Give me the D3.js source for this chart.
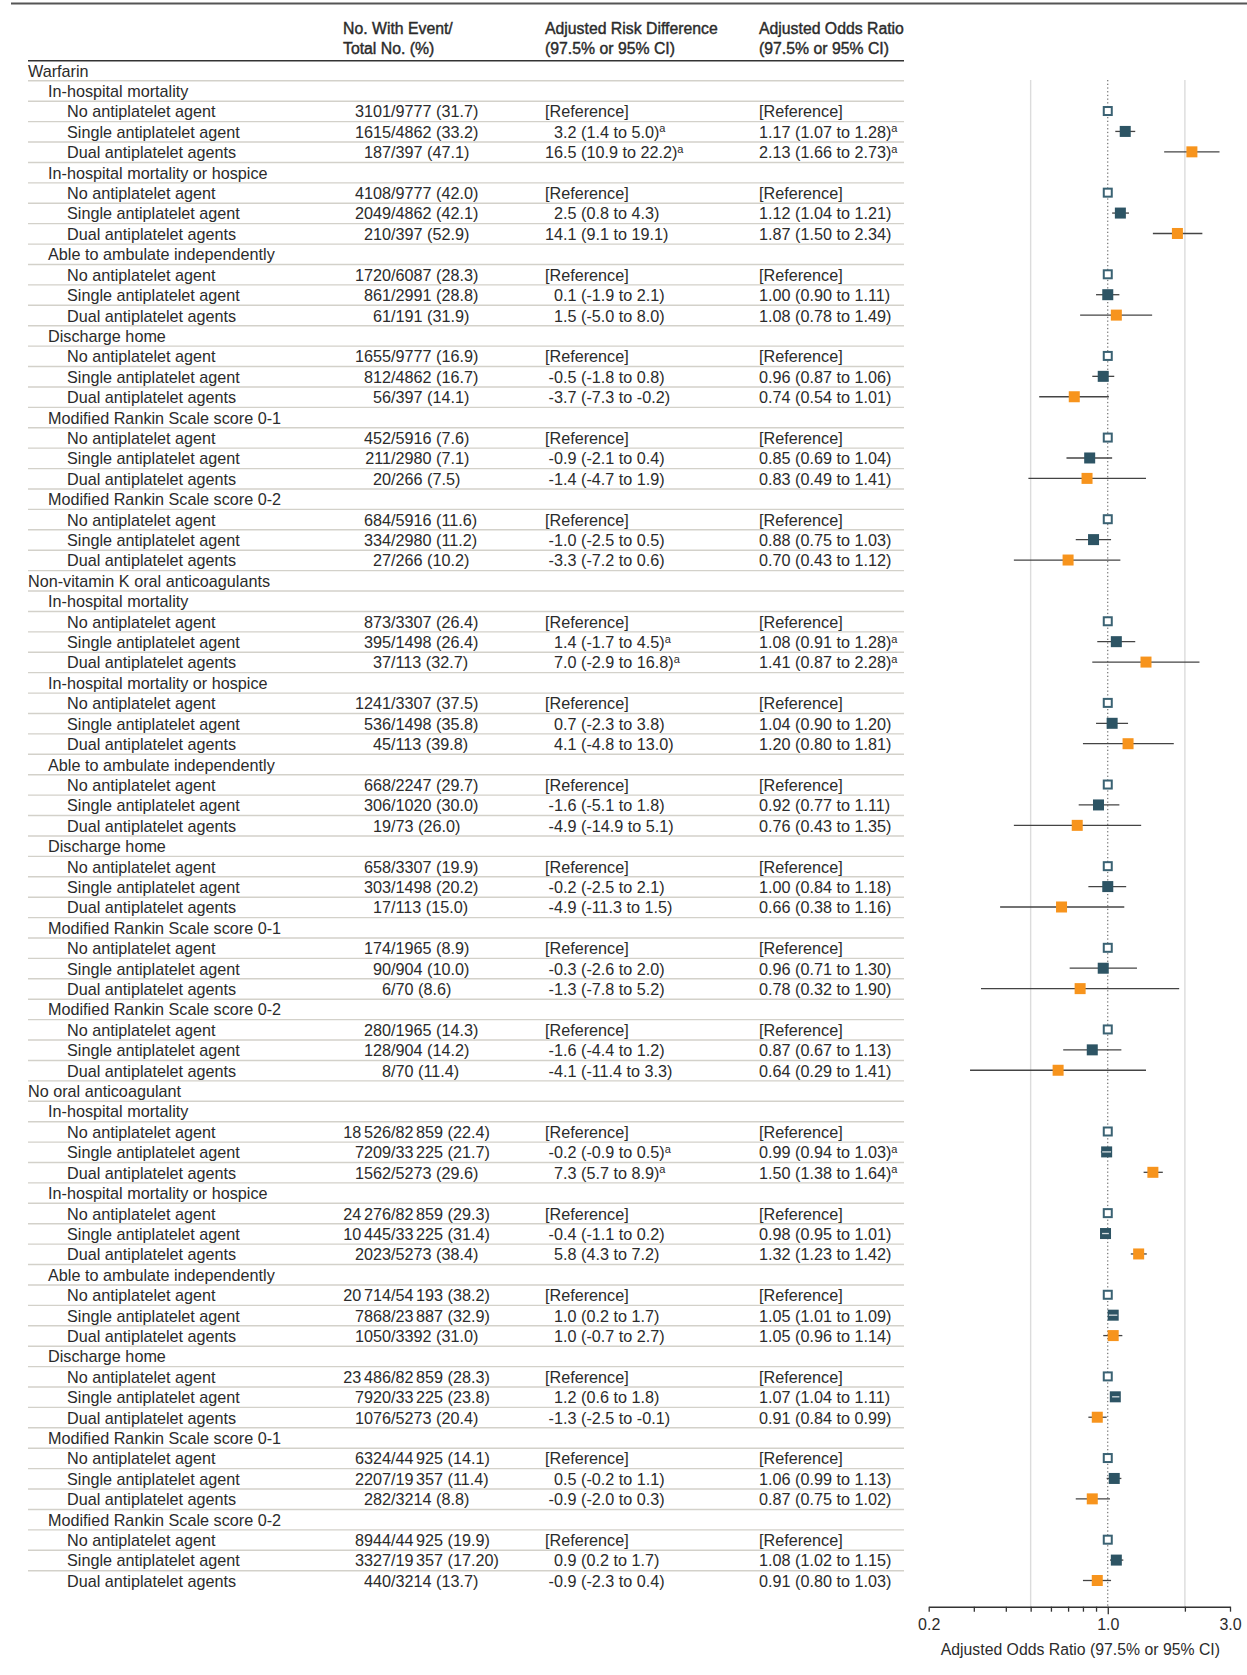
<!DOCTYPE html>
<html>
<head>
<meta charset="utf-8">
<script src="https://cdn.jsdelivr.net/npm/d3@7"></script>
<style>
    body { margin: 0; background: #fff; }
    text { font-family: "Liberation Sans", Arial, sans-serif; fill: #2b2b2b; }
</style>
</head>
<body>
<div id="chart"></div>
<script>

// row structure
const groups = ["Warfarin", "Non-vitamin K oral anticoagulants", "No oral anticoagulant"];
const outcomes = ["In-hospital mortality", "In-hospital mortality or hospice", "Able to ambulate independently",
    "Discharge home", "Modified Rankin Scale score 0-1", "Modified Rankin Scale score 0-2"];
const agents = ["No antiplatelet agent", "Single antiplatelet agent", "Dual antiplatelet agents"];
const footnoteOutcome = "In-hospital mortality";

// one entry per group x outcome x agent (54 rows)
const numerators = [
    3101, 1615, 187, 4108, 2049, 210, 1720, 861, 61, 1655, 812, 56, 452, 211, 20, 684, 334, 27,
    873, 395, 37, 1241, 536, 45, 668, 306, 19, 658, 303, 17, 174, 90, 6, 280, 128, 8,
    18526, 7209, 1562, 24276, 10445, 2023, 20714, 7868, 1050, 23486, 7920, 1076, 6324, 2207, 282, 8944, 3327, 440];
const denominators = [
    9777, 4862, 397, 9777, 4862, 397, 6087, 2991, 191, 9777, 4862, 397, 5916, 2980, 266, 5916, 2980, 266,
    3307, 1498, 113, 3307, 1498, 113, 2247, 1020, 73, 3307, 1498, 113, 1965, 904, 70, 1965, 904, 70,
    82859, 33225, 5273, 82859, 33225, 5273, 54193, 23887, 3392, 82859, 33225, 5273, 44925, 19357, 3214, 44925, 19357, 3214];
const percents = [
    "31.7", "33.2", "47.1", "42.0", "42.1", "52.9", "28.3", "28.8", "31.9", "16.9", "16.7", "14.1", "7.6", "7.1", "7.5", "11.6", "11.2", "10.2",
    "26.4", "26.4", "32.7", "37.5", "35.8", "39.8", "29.7", "30.0", "26.0", "19.9", "20.2", "15.0", "8.9", "10.0", "8.6", "14.3", "14.2", "11.4",
    "22.4", "21.7", "29.6", "29.3", "31.4", "38.4", "38.2", "32.9", "31.0", "28.3", "23.8", "20.4", "14.1", "11.4", "8.8", "19.9", "17.20", "13.7"];

// adjusted risk difference (null = reference)
const rdEst = [
    null, 3.2, 16.5, null, 2.5, 14.1, null, 0.1, 1.5, null, -0.5, -3.7, null, -0.9, -1.4, null, -1.0, -3.3,
    null, 1.4, 7.0, null, 0.7, 4.1, null, -1.6, -4.9, null, -0.2, -4.9, null, -0.3, -1.3, null, -1.6, -4.1,
    null, -0.2, 7.3, null, -0.4, 5.8, null, 1.0, 1.0, null, 1.2, -1.3, null, 0.5, -0.9, null, 0.9, -0.9];
const rdLo = [
    null, 1.4, 10.9, null, 0.8, 9.1, null, -1.9, -5.0, null, -1.8, -7.3, null, -2.1, -4.7, null, -2.5, -7.2,
    null, -1.7, -2.9, null, -2.3, -4.8, null, -5.1, -14.9, null, -2.5, -11.3, null, -2.6, -7.8, null, -4.4, -11.4,
    null, -0.9, 5.7, null, -1.1, 4.3, null, 0.2, -0.7, null, 0.6, -2.5, null, -0.2, -2.0, null, 0.2, -2.3];
const rdHi = [
    null, 5.0, 22.2, null, 4.3, 19.1, null, 2.1, 8.0, null, 0.8, -0.2, null, 0.4, 1.9, null, 0.5, 0.6,
    null, 4.5, 16.8, null, 3.8, 13.0, null, 1.8, 5.1, null, 2.1, 1.5, null, 2.0, 5.2, null, 1.2, 3.3,
    null, 0.5, 8.9, null, 0.2, 7.2, null, 1.7, 2.7, null, 1.8, -0.1, null, 1.1, 0.3, null, 1.7, 0.4];

// adjusted odds ratio (null = reference)
const orEst = [
    null, 1.17, 2.13, null, 1.12, 1.87, null, 1.00, 1.08, null, 0.96, 0.74, null, 0.85, 0.83, null, 0.88, 0.70,
    null, 1.08, 1.41, null, 1.04, 1.20, null, 0.92, 0.76, null, 1.00, 0.66, null, 0.96, 0.78, null, 0.87, 0.64,
    null, 0.99, 1.50, null, 0.98, 1.32, null, 1.05, 1.05, null, 1.07, 0.91, null, 1.06, 0.87, null, 1.08, 0.91];
const orLo = [
    null, 1.07, 1.66, null, 1.04, 1.50, null, 0.90, 0.78, null, 0.87, 0.54, null, 0.69, 0.49, null, 0.75, 0.43,
    null, 0.91, 0.87, null, 0.90, 0.80, null, 0.77, 0.43, null, 0.84, 0.38, null, 0.71, 0.32, null, 0.67, 0.29,
    null, 0.94, 1.38, null, 0.95, 1.23, null, 1.01, 0.96, null, 1.04, 0.84, null, 0.99, 0.75, null, 1.02, 0.80];
const orHi = [
    null, 1.28, 2.73, null, 1.21, 2.34, null, 1.11, 1.49, null, 1.06, 1.01, null, 1.04, 1.41, null, 1.03, 1.12,
    null, 1.28, 2.28, null, 1.20, 1.81, null, 1.11, 1.35, null, 1.18, 1.16, null, 1.30, 1.90, null, 1.13, 1.41,
    null, 1.03, 1.64, null, 1.01, 1.42, null, 1.09, 1.14, null, 1.11, 0.99, null, 1.13, 1.02, null, 1.15, 1.03];

// axis
const xDomain = [0.2, 3.0];
const xTicks = [0.2, 0.3, 0.4, 0.5, 0.6, 0.7, 0.8, 0.9, 1.0, 2.0, 3.0];
const xTickLabels = [0.2, 1.0, 3.0];
const xGrid = [0.5, 2.0];
const xTitle = "Adjusted Odds Ratio (97.5% or 95% CI)";


class ForestVis {

    constructor(parentElement) {
        this.parentElement = parentElement;
        this.initVis();
    }

    initVis() {
        let vis = this;

        vis.width = 1247;
        vis.height = 1675;

        vis.svg = d3.select("#" + vis.parentElement).append("svg")
            .attr("width", vis.width)
            .attr("height", vis.height);

        // column anchors
        vis.col = {indent: [28, 48, 67], slash: 391, rd: 545, or: 759, tableRight: 904};

        // scales
        vis.x = d3.scaleLog().domain(xDomain).range([928.7, 1230]);
        vis.y = d3.scaleLinear().domain([0, 74]).range([70.2, 1580.5]);

        vis.colors = {single: "#2d5464", dual: "#f7941d", ref: "#3a6273"};

        vis.wrangleData();
    }

    wrangleData() {
        let vis = this;

        // flatten into table rows
        vis.rows = [];
        let k = 0;
        groups.forEach(g => {
            vis.rows.push({level: 0, label: g});
            outcomes.forEach(o => {
                vis.rows.push({level: 1, label: o});
                agents.forEach((a, ai) => {
                    vis.rows.push({
                        level: 2, label: a, agent: ai, idx: k,
                        foot: o === footnoteOutcome && ai > 0
                    });
                    k++;
                });
            });
        });
        vis.rows.forEach((r, i) => r.i = i);

        vis.updateVis();
    }

    // write an integer, with a small gap before the last 3 digits when >= 10000
    addInt(sel, n) {
        let s = String(n);
        if (s.length < 5) {
            sel.append("tspan").text(s);
        } else {
            sel.append("tspan").text(s.slice(0, s.length - 3));
            sel.append("tspan").attr("dx", 2.6).text(s.slice(-3));
        }
    }

    updateVis() {
        let vis = this;
        let fs = 16.2;

        // top rule
        vis.svg.append("line")
            .attr("x1", 11).attr("x2", vis.width)
            .attr("y1", 3.5).attr("y2", 3.5)
            .attr("stroke", "#555").attr("stroke-width", 2);

        // column headers
        let headers = [
            {x: 343, lines: ["No. With Event/", "Total No. (%)"]},
            {x: vis.col.rd, lines: ["Adjusted Risk Difference", "(97.5% or 95% CI)"]},
            {x: vis.col.or, lines: ["Adjusted Odds Ratio", "(97.5% or 95% CI)"]}
        ];
        headers.forEach(h => {
            h.lines.forEach((t, li) => {
                vis.svg.append("text")
                    .attr("x", h.x).attr("y", 34 + li * 20)
                    .attr("font-size", 15.8)
                    .style("stroke", "#2b2b2b").style("stroke-width", 0.4)
                    .text(t);
            });
        });

        vis.svg.append("line")
            .attr("x1", 28).attr("x2", vis.col.tableRight)
            .attr("y1", 60.8).attr("y2", 60.8)
            .attr("stroke", "#333").attr("stroke-width", 1.6);

        // row separators
        vis.svg.append("g").selectAll("line")
            .data(vis.rows.slice(0, vis.rows.length - 1))
            .enter().append("line")
            .attr("x1", 28).attr("x2", vis.col.tableRight)
            .attr("y1", d => vis.y(d.i) + 10.6).attr("y2", d => vis.y(d.i) + 10.6)
            .attr("stroke", "#d3d1ca").attr("stroke-width", 1.4);

        let base = d => vis.y(d.i) + 6.4;

        // labels
        vis.svg.append("g").selectAll("text")
            .data(vis.rows)
            .enter().append("text")
            .attr("x", d => vis.col.indent[d.level])
            .attr("y", base)
            .attr("font-size", fs)
            .text(d => d.label);

        let dataRows = vis.rows.filter(d => d.level === 2);

        // event counts, aligned on the slash
        let counts = vis.svg.append("g");
        dataRows.forEach(d => {
            let left = counts.append("text")
                .attr("x", vis.col.slash).attr("y", base(d))
                .attr("font-size", fs).attr("text-anchor", "end");
            vis.addInt(left, numerators[d.idx]);
            let right = counts.append("text")
                .attr("x", vis.col.slash).attr("y", base(d))
                .attr("font-size", fs);
            right.append("tspan").text("/");
            vis.addInt(right, denominators[d.idx]);
            right.append("tspan").text(" (" + percents[d.idx] + ")");
        });

        // risk difference, aligned on the decimal point
        let probe = vis.svg.append("text").attr("font-size", fs).text("16");
        let decX = vis.col.rd + probe.node().getComputedTextLength();
        probe.remove();

        let rd = vis.svg.append("g");
        dataRows.forEach(d => {
            if (rdEst[d.idx] === null) {
                rd.append("text").attr("x", vis.col.rd).attr("y", base(d))
                    .attr("font-size", fs).text("[Reference]");
                return;
            }
            let est = rdEst[d.idx].toFixed(1);
            let dot = est.indexOf(".");
            rd.append("text").attr("x", decX).attr("y", base(d))
                .attr("font-size", fs).attr("text-anchor", "end")
                .text(est.slice(0, dot));
            let t = rd.append("text").attr("x", decX).attr("y", base(d))
                .attr("font-size", fs)
                .text(est.slice(dot) + " (" + rdLo[d.idx].toFixed(1) + " to " + rdHi[d.idx].toFixed(1) + ")");
            if (d.foot) t.append("tspan").attr("font-size", 11).attr("dy", -5.5).text("a");
        });

        // odds ratio text
        let orText = vis.svg.append("g");
        dataRows.forEach(d => {
            let label = orEst[d.idx] === null ? "[Reference]" :
                orEst[d.idx].toFixed(2) + " (" + orLo[d.idx].toFixed(2) + " to " + orHi[d.idx].toFixed(2) + ")";
            let t = orText.append("text").attr("x", vis.col.or).attr("y", base(d))
                .attr("font-size", fs).text(label);
            if (d.foot) t.append("tspan").attr("font-size", 11).attr("dy", -5.5).text("a");
        });

        // plot gridlines and reference line
        let plotTop = 80, plotBottom = 1606.7;
        vis.svg.append("g").selectAll("line")
            .data(xGrid)
            .enter().append("line")
            .attr("x1", d => vis.x(d)).attr("x2", d => vis.x(d))
            .attr("y1", plotTop).attr("y2", plotBottom)
            .attr("stroke", "#dcdcdc").attr("stroke-width", 1.4);

        vis.svg.append("line")
            .attr("x1", vis.x(1)).attr("x2", vis.x(1))
            .attr("y1", plotTop).attr("y2", plotBottom)
            .attr("stroke", "#555").attr("stroke-width", 1)
            .attr("stroke-dasharray", "1.3,2.4");

        // axis
        vis.xAxis = d3.axisBottom(vis.x)
            .tickValues(xTicks)
            .tickSize(5)
            .tickSizeOuter(0)
            .tickPadding(5)
            .tickFormat(d => xTickLabels.includes(d) ? d3.format(".1f")(d) : "");

        vis.xAxisGroup = vis.svg.append("g")
            .attr("class", "axis x-axis")
            .attr("transform", `translate(0, ${plotBottom})`)
            .call(vis.xAxis);

        vis.xAxisGroup.select(".domain").attr("stroke", "#333").attr("stroke-width", 1.6);
        vis.xAxisGroup.selectAll(".tick line")
            .attr("stroke", "#333").attr("stroke-width", 1.3)
            .attr("y2", d => d === 1 ? 7.5 : 5);
        vis.xAxisGroup.selectAll(".tick text")
            .attr("font-size", 16)
            .attr("font-family", null)
            .attr("fill", "#2b2b2b")
            .attr("dy", "0.85em");

        vis.svg.append("text")
            .attr("x", (vis.x(xDomain[0]) + vis.x(xDomain[1])) / 2 + 1)
            .attr("y", 1654.5)
            .attr("font-size", 15.8)
            .attr("text-anchor", "middle")
            .text(xTitle);

        // markers
        let marks = vis.svg.append("g");
        let s = 11;
        dataRows.forEach(d => {
            let cy = vis.y(d.i);
            if (orEst[d.idx] === null) {
                marks.append("rect")
                    .attr("x", vis.x(1) - 4).attr("y", cy - 4)
                    .attr("width", 8).attr("height", 8)
                    .attr("fill", "#fff")
                    .attr("stroke", vis.colors.ref).attr("stroke-width", 2);
                return;
            }
            let x0 = vis.x(orLo[d.idx]), x1 = vis.x(orHi[d.idx]), cx = vis.x(orEst[d.idx]);
            let color = d.agent === 1 ? vis.colors.single : vis.colors.dual;
            marks.append("line")
                .attr("x1", x0).attr("x2", x1).attr("y1", cy).attr("y2", cy)
                .attr("stroke", "#444").attr("stroke-width", 1.3);
            marks.append("rect")
                .attr("x", cx - s / 2).attr("y", cy - s / 2)
                .attr("width", s).attr("height", s)
                .attr("fill", color);
            // narrow intervals shown inside the square
            if (x1 - x0 < s + 1) {
                marks.append("line")
                    .attr("x1", Math.max(x0, cx - s / 2 + 1)).attr("x2", Math.min(x1, cx + s / 2 - 1))
                    .attr("y1", cy).attr("y2", cy)
                    .attr("stroke", "#fff").attr("stroke-opacity", 0.8).attr("stroke-width", 1.3);
            }
        });
    }
}

new ForestVis("chart");

</script>
</body>
</html>
